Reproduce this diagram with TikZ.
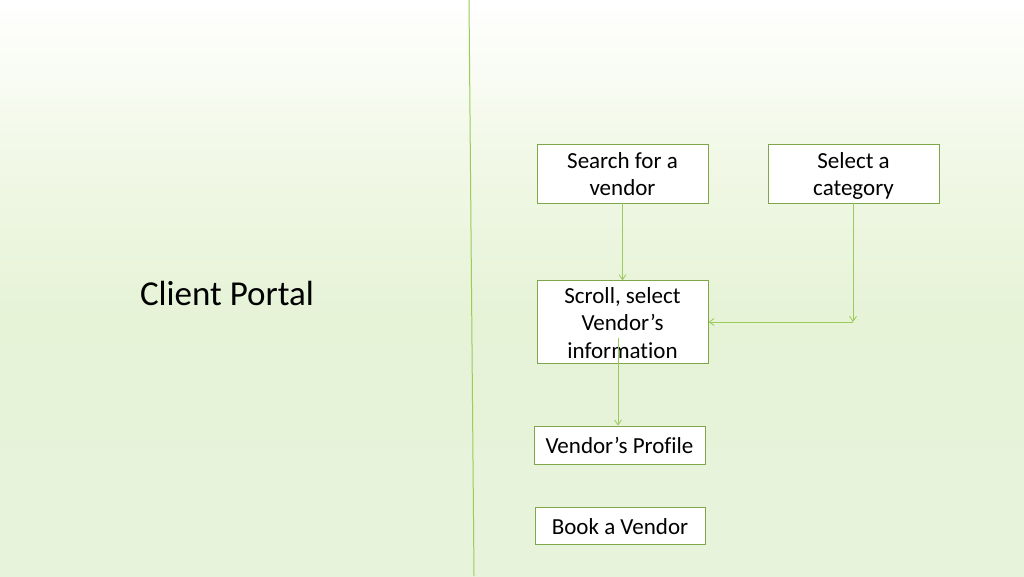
\documentclass[tikz,border=0pt]{standalone}
\usepackage{fontspec}
\setmainfont{Carlito}[Ligatures=CommonOff]
\usetikzlibrary{arrows.meta}
\definecolor{bgmid}{HTML}{F1F8E6}
\definecolor{bgbot}{HTML}{E6F3D7}
\definecolor{bgend}{HTML}{E8F3DC}
\definecolor{linegreen}{HTML}{9BCB5A}
\definecolor{boxgreen}{HTML}{7FA648}
\pgfdeclareverticalshading{bgshade}{100bp}{color(0bp)=(bgend); color(25bp)=(bgend); color(47.5bp)=(bgbot); color(61bp)=(bgmid); color(75bp)=(white); color(100bp)=(white)}
\newcommand{\tops}{\rule{0pt}{22.25pt}}
\newcommand{\bots}{\rule[-5.25pt]{0pt}{5.25pt}}
\tikzset{
  x=1pt,y=-1pt,
  stepbox/.style={draw=boxgreen,line width=0.9pt,fill=white,minimum width=171pt,align=center,font=\fontsize{23}{27.5}\selectfont,inner sep=0pt},
  conn/.style={draw=linegreen,line width=0.8pt,-{Straight Barb[length=5pt,width=7pt,line width=0.8pt]}},
}
\begin{document}
\begin{tikzpicture}
\shade[shading=bgshade] (0,0) rectangle (1024,576);
\useasboundingbox (0,0) rectangle (1024,576);
\draw[linegreen,line width=1pt] (469,0) -- (474,576);
\node[font=\fontsize{35}{40}\selectfont] (title) at (227,297) {\strut Client Portal};
\node[stepbox,minimum height=59pt] (search) at (622.5,173.5) {\tops Search for a\\vendor\bots};
\node[stepbox,minimum height=59pt] (cat) at (853.5,173.5) {\tops Select a\\category\bots};
\node[stepbox,minimum height=80pt] (scroll) at (622.5,322) {\tops Scroll, select\\Vendor’s\\information\bots};
\node[stepbox,minimum height=38pt] (profile) at (619.5,445) {\tops Vendor’s Profile\bots};
\node[stepbox,minimum height=37pt,minimum width=170pt] (book) at (620,525.5) {\tops Book a Vendor\bots};
\coordinate (corner) at (853,322);
\coordinate (inner) at (618,338);
\draw[conn] (search.south) -- (scroll.north);
\draw[conn] (cat.south -| corner) -- (corner);
\draw[conn] (corner) -- (scroll.east);
\draw[conn] (inner) -- (inner |- profile.north);
\end{tikzpicture}
\end{document}
